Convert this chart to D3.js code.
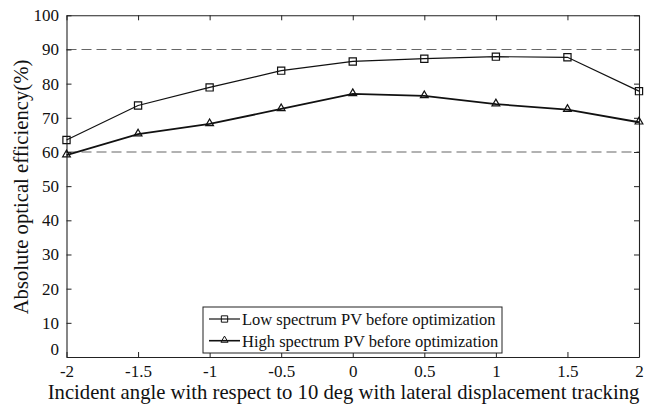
<!DOCTYPE html>
<html>
<head>
<meta charset="utf-8">
<script src="https://cdn.jsdelivr.net/npm/d3@7/dist/d3.min.js"></script>
<style>
  html, body { margin: 0; padding: 0; background: #fff; }
  svg { display: block; }
</style>
</head>
<body>
<svg id="chart" width="645" height="408" font-family="Liberation Serif"></svg>
<script>
// Incident angle offsets (deg)
const angles = [-2, -1.5, -1, -0.5, 0, 0.5, 1, 1.5, 2];
// Absolute optical efficiency (%)
const lowSpectrum  = [63.5, 73.6, 78.9, 83.8, 86.5, 87.3, 87.9, 87.7, 77.8];
const highSpectrum = [59.1, 65.2, 68.2, 72.6, 77.0, 76.4, 74.0, 72.4, 68.7];
const seriesNames = ["Low spectrum PV before optimization", "High spectrum PV before optimization"];
const xTicks = [-2, -1.5, -1, -0.5, 0, 0.5, 1, 1.5, 2];
const yTicks = [0, 10, 20, 30, 40, 50, 60, 70, 80, 90, 100];
const refLines = [60, 90];
const xTitle = "Incident angle with respect to 10 deg with lateral displacement tracking";
const yTitle = "Absolute optical efficiency(%)";

const FONT = "Liberation Serif";
const INK = "#111";
const svg = d3.select("#chart");
const m = { left: 66.5, right: 639, top: 15.3, bottom: 357 };

const x = d3.scaleLinear().domain([-2, 2]).range([m.left, m.right]);
const y = d3.scaleLinear().domain([0, 100]).range([m.bottom, m.top]);

// Dashed reference lines
svg.selectAll("line.ref").data(refLines).join("line")
  .attr("class", "ref")
  .attr("x1", m.left).attr("x2", m.right)
  .attr("y1", d => y(d)).attr("y2", d => y(d))
  .attr("stroke", "#666").attr("stroke-width", 1.1)
  .attr("stroke-dasharray", "10,5");

// Axes: inward ticks on all four sides of the box
const fmt = d => String(d);
const axisStyle = g => {
  g.attr("font-family", FONT).attr("font-size", 17);
  g.select(".domain").attr("stroke", "#222").attr("stroke-width", 1.1);
  g.selectAll(".tick line").attr("stroke", "#222").attr("stroke-width", 1);
  g.selectAll("text").attr("font-family", FONT).attr("font-size", 17).attr("fill", INK);
};

svg.append("g").attr("transform", `translate(0,${m.bottom})`)
  .call(d3.axisBottom(x).tickValues(xTicks).tickFormat(fmt).tickSizeInner(-5).tickSizeOuter(0).tickPadding(8))
  .call(axisStyle);
svg.append("g").attr("transform", `translate(0,${m.top})`)
  .call(d3.axisTop(x).tickValues(xTicks).tickFormat("").tickSizeInner(-5).tickSizeOuter(0))
  .call(axisStyle);
const yAxisG = svg.append("g").attr("transform", `translate(${m.left},0)`)
  .call(d3.axisLeft(y).tickValues(yTicks).tickFormat(fmt).tickSizeInner(-5).tickSizeOuter(0).tickPadding(7.5))
  .call(axisStyle);
// lift the origin label clear of the x-axis labels
yAxisG.selectAll(".tick").filter(d => d === 0).select("text").attr("dy", "-0.15em");
svg.append("g").attr("transform", `translate(${m.right},0)`)
  .call(d3.axisRight(y).tickValues(yTicks).tickFormat("").tickSizeInner(-5).tickSizeOuter(0))
  .call(axisStyle);

// Series
const line = d3.line().x((d, i) => x(angles[i])).y(d => y(d));
const square = d3.symbol().type(d3.symbolSquare).size(52);
const triangle = d3.symbol().type(d3.symbolTriangle).size(26);

svg.append("path").datum(lowSpectrum).attr("d", line)
  .attr("fill", "none").attr("stroke", INK).attr("stroke-width", 1.2);
svg.selectAll("path.sq").data(lowSpectrum).join("path")
  .attr("class", "sq")
  .attr("d", square)
  .attr("transform", (d, i) => `translate(${x(angles[i])},${y(d)})`)
  .attr("fill", "none").attr("stroke", INK).attr("stroke-width", 1.2);

svg.append("path").datum(highSpectrum).attr("d", line)
  .attr("fill", "none").attr("stroke", INK).attr("stroke-width", 1.8);
svg.selectAll("path.tri").data(highSpectrum).join("path")
  .attr("class", "tri")
  .attr("d", triangle)
  .attr("transform", (d, i) => `translate(${x(angles[i])},${y(d) - 0.5})`)
  .attr("fill", "none").attr("stroke", INK).attr("stroke-width", 1.2);

// Legend
const lg = svg.append("g").attr("transform", "translate(203,307)");
lg.append("rect").attr("width", 299).attr("height", 46)
  .attr("fill", "#fff").attr("stroke", "#222").attr("stroke-width", 1);
const markers = [square, triangle];
seriesNames.forEach((name, i) => {
  const cy = 12 + i * 21.7;
  lg.append("line").attr("x1", 6).attr("x2", 37).attr("y1", cy).attr("y2", cy)
    .attr("stroke", INK).attr("stroke-width", i ? 1.6 : 1.2);
  lg.append("path").attr("d", markers[i].size(i ? 22 : 40)())
    .attr("transform", `translate(21.5,${cy - (i ? 0.5 : 0)})`)
    .attr("fill", "none").attr("stroke", INK).attr("stroke-width", 1);
  lg.append("text").attr("x", 39).attr("y", cy + 6)
    .attr("font-family", FONT).attr("font-size", 16.5).attr("fill", INK).text(name);
});

// Axis titles
svg.append("text")
  .attr("x", 343.5).attr("y", 398.5)
  .attr("text-anchor", "middle").attr("font-family", FONT).attr("font-size", 20.7).attr("fill", INK)
  .text(xTitle);
svg.append("text")
  .attr("transform", "translate(27.5,187) rotate(-90)")
  .attr("text-anchor", "middle").attr("font-family", FONT).attr("font-size", 20.7).attr("fill", INK)
  .text(yTitle);
</script>
</body>
</html>
